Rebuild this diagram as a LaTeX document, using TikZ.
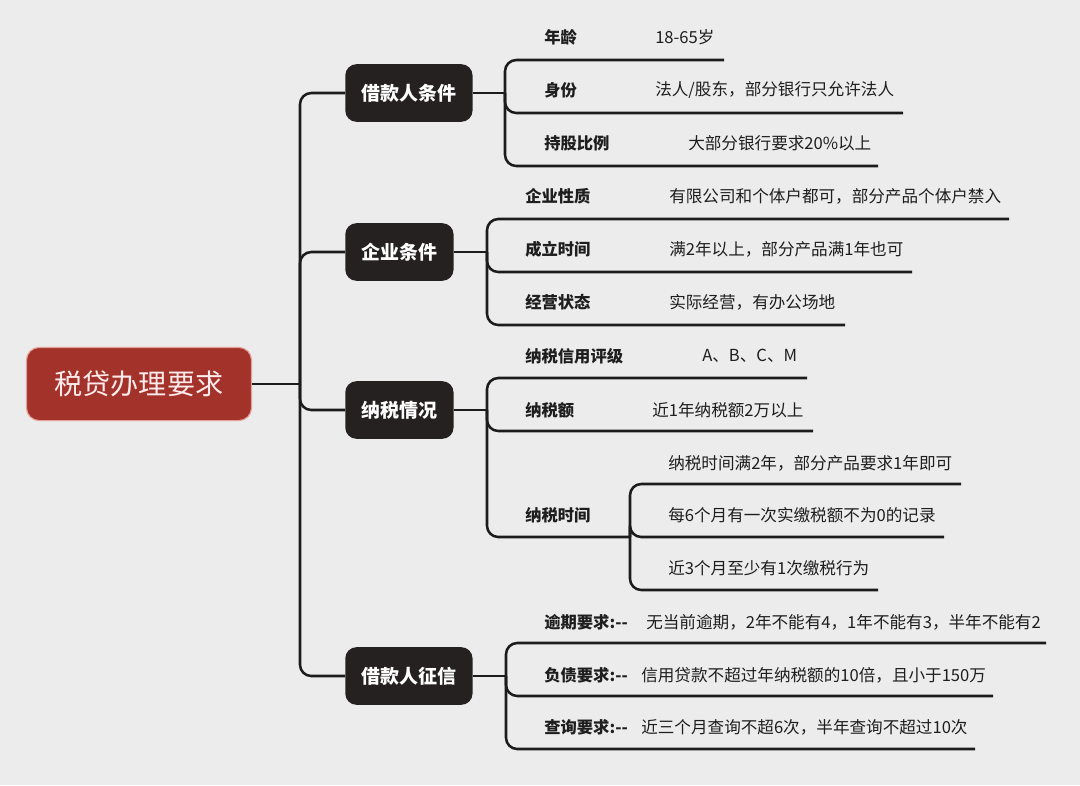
\documentclass[tikz,border=0pt]{standalone}
\usepackage{fontspec}
\setmainfont{Noto Sans CJK SC}
\definecolor{bgGray}{HTML}{ECECEC}
\definecolor{rootRed}{HTML}{A3322A}
\definecolor{rootEdge}{HTML}{E2A096}
\definecolor{boxBlack}{HTML}{252120}
\definecolor{lineBlack}{HTML}{1C1C1C}
\definecolor{txtBlack}{HTML}{1E1E1E}

\begin{document}
\begin{tikzpicture}[
  x=0.025cm, y=-0.025cm,
  branch/.style={draw=lineBlack, line width=1.8pt, rounded corners=8pt},
  rootbox/.style={fill=rootRed, draw=rootEdge, line width=0.8pt, rounded corners=9pt,
    text=white!92!red, font=\fontsize{20}{24}\selectfont, minimum width=160pt, minimum height=52pt},
  topic/.style={fill=boxBlack, rounded corners=8pt, text=white, anchor=west,
    font=\fontsize{13.5}{16}\selectfont\bfseries, minimum height=41pt, inner xsep=11.5pt},
  key/.style={anchor=west, inner sep=0pt, text=txtBlack, font=\fontsize{11.6}{14}\selectfont\bfseries},
  val/.style={anchor=west, inner sep=0pt, text=txtBlack, font=\fontsize{11.8}{14}\selectfont}
]

% Canvas
\fill[bgGray] (0,0) rectangle (1080,785);
\useasboundingbox (0,0) rectangle (1080,785);

% Positions (x)
\def\xTrunk{300}
\def\xBox{345}

% Root and main topics
\node[rootbox] (root) at (139,384) {税贷办理要求};
\node[topic] (borrower) at (\xBox,93)  {借款人条件};
\node[topic] (firm)     at (\xBox,252) {企业条件};
\node[topic] (tax)      at (\xBox,410) {纳税情况};
\node[topic] (credit)   at (\xBox,676) {借款人征信};

% Trunk
\coordinate (hub) at (\xTrunk,384);
\draw[branch] (root.east) -- (hub);
\foreach \b in {borrower,firm,tax,credit} {
  \draw[branch] (hub) |- (\b.west);
}

% 1. Borrower
\coordinate (jB) at (505,93);
\draw[branch] (borrower.east) -- (jB);
\node[key] (age)   at (544,37)  {年龄};
\node[val] (ageV)  at (655,37)  {18-65岁};
\node[key] (ident) at (544,90)  {身份};
\node[val] (identV) at (655,90) {法人/股东，部分银行只允许法人};
\node[key] (share) at (544,143) {持股比例};
\node[val] (shareV) at (688,143) {大部分银行要求20\%以上};
\coordinate (ageU)   at (724,60);
\coordinate (identU) at (903,113);
\coordinate (shareU) at (878,166);
\foreach \u in {ageU,identU,shareU} {
  \draw[branch] (jB) |- (\u);
}

% 2. Enterprise
\coordinate (jF) at (487,252);
\draw[branch] (firm.east) -- (jF);
\node[key] (kind)  at (525,196) {企业性质};
\node[val] (kindV) at (669,196) {有限公司和个体户都可，部分产品个体户禁入};
\node[key] (age2)  at (525,249) {成立时间};
\node[val] (age2V) at (669,249) {满2年以上，部分产品满1年也可};
\node[key] (oper)  at (525,302) {经营状态};
\node[val] (operV) at (669,302) {实际经营，有办公场地};
\coordinate (kindU) at (1009,219);
\coordinate (age2U) at (912,272);
\coordinate (operU) at (845,325);
\foreach \u in {kindU,age2U,operU} {
  \draw[branch] (jF) |- (\u);
}

% 3. Tax
\coordinate (jX) at (487,410);
\draw[branch] (tax.east) -- (jX);
\node[key] (rate)  at (525,356) {纳税信用评级};
\node[val] (rateV) at (702,356) {A、B、C、M};
\node[key] (amt)   at (525,410) {纳税额};
\node[val] (amtV)  at (652,410) {近1年纳税额2万以上};
\node[key] (span)  at (525,515) {纳税时间};
\coordinate (rateU) at (807,378);
\coordinate (amtU)  at (813,431);
\coordinate (jT)    at (630,537);
\foreach \u in {rateU,amtU,jT} {
  \draw[branch] (jX) |- (\u);
}

% 3.1 Tax period details
\node[val] (spanA) at (668,463) {纳税时间满2年，部分产品要求1年即可};
\node[val] (spanB) at (668,515) {每6个月有一次实缴税额不为0的记录};
\node[val] (spanC) at (668,568) {近3个月至少有1次缴税行为};
\coordinate (spanAU) at (961,484);
\coordinate (spanBU) at (944,537);
\coordinate (spanCU) at (878,590);
\foreach \u in {spanAU,spanBU,spanCU} {
  \draw[branch] (jT) |- (\u);
}

% 4. Credit report
\coordinate (jC) at (506,676);
\draw[branch] (credit.east) -- (jC);
\node[key] (late)   at (544,622) {逾期要求:-{}-};
\node[val] (lateV)  at (646,622) {无当前逾期，2年不能有4，1年不能有3，半年不能有2};
\node[key] (debt)   at (544,675) {负债要求:-{}-};
\node[val] (debtV)  at (641,675) {信用贷款不超过年纳税额的10倍，且小于150万};
\node[key] (query)  at (544,727) {查询要求:-{}-};
\node[val] (queryV) at (641,727) {近三个月查询不超6次，半年查询不超过10次};
\coordinate (lateU)  at (1046,643);
\coordinate (debtU)  at (993,696);
\coordinate (queryU) at (975,749);
\foreach \u in {lateU,debtU,queryU} {
  \draw[branch] (jC) |- (\u);
}

\end{tikzpicture}
\end{document}
